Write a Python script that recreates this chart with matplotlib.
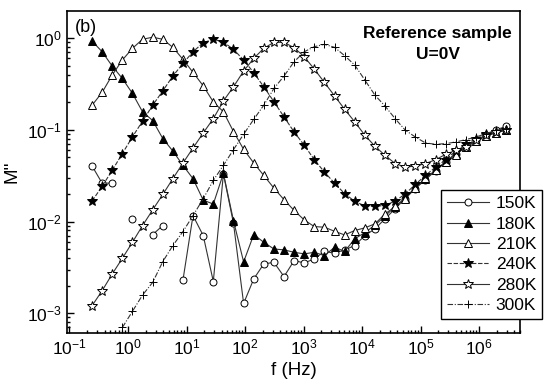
import numpy as np
import matplotlib
matplotlib.use("Agg")
import matplotlib.pyplot as plt
from matplotlib.ticker import FixedLocator, LogLocator, NullFormatter

plt.rcParams['font.family'] = ['Liberation Sans', 'DejaVu Sans']
plt.rcParams['mathtext.default'] = 'regular'

nan = np.nan

# frequency sweep (Hz)
freq = [0.243, 0.361, 0.537, 0.80, 1.19, 1.77, 2.64, 3.93, 5.84, 8.70,
        12.9, 19.3, 28.7, 42.7, 63.5, 94.6, 141, 209, 312, 464,
        690, 1028, 1528, 2275, 3388, 5046, 7500, 11170, 16630, 24720,
        36810, 54830, 81470, 121300, 180700, 269000, 400000, 595700, 887000, 1318000,
        1963000, 2924000]

# M'' for each temperature
m150 = [0.0403, 0.0262, 0.0262, nan, 0.0107, nan, 0.00721, 0.00904, nan, 0.00231,
        0.0116, 0.00703, 0.00222, 0.0331, 0.00955, 0.00128, 0.00237, 0.00345, 0.00359, 0.00251,
        0.00375, 0.00354, 0.00391, 0.00473, 0.00451, 0.00491, 0.00547, 0.00703, 0.00832, 0.0107,
        0.0138, 0.0178, 0.0229, 0.0285, 0.0359, 0.0447, 0.055, 0.0661, 0.0767, 0.0881,
        0.100, 0.109]
m180 = [0.927, 0.708, 0.494, 0.362, 0.249, 0.157, 0.126, 0.0802, 0.0586, 0.0409,
        0.0293, 0.0171, 0.0155, 0.0335, 0.0102, 0.00363, 0.00721, 0.00594, 0.00502, 0.00491,
        0.00462, 0.00444, 0.00462, 0.00425, 0.00524, 0.00473, 0.00647, 0.00759, 0.00912, 0.0115,
        0.0145, 0.0182, 0.0234, 0.0292, 0.0363, 0.0447, 0.055, 0.0646, 0.0759, 0.0861,
        0.0933, 0.100]
m210 = [0.185, 0.255, 0.394, 0.575, 0.771, 0.968, 1.02, 0.968, 0.791, 0.585,
        0.422, 0.301, 0.201, 0.157, 0.0955, 0.0612, 0.0434, 0.0318, 0.0231, 0.0173,
        0.0132, 0.0104, 0.00881, 0.00867, 0.00783, 0.00714, 0.00798, 0.00853, 0.00944, 0.0121,
        0.0146, 0.0177, 0.0234, 0.0295, 0.0363, 0.0447, 0.0537, 0.0646, 0.075, 0.0851,
        0.0933, 0.100]
m240 = [0.0167, 0.0242, 0.0361, 0.055, 0.0836, 0.124, 0.185, 0.265, 0.385, 0.528,
        0.708, 0.889, 0.968, 0.902, 0.752, 0.575, 0.418, 0.294, 0.202, 0.138,
        0.0946, 0.0678, 0.0472, 0.0346, 0.0262, 0.0201, 0.0166, 0.0148, 0.0146, 0.015,
        0.0167, 0.020, 0.0254, 0.0318, 0.0392, 0.0472, 0.0586, 0.0695, 0.0802, 0.0893,
        0.0946, 0.0989]
m280 = [0.00121, 0.00176, 0.00268, 0.00397, 0.00594, 0.00902, 0.0134, 0.0197, 0.0293, 0.0434,
        0.0632, 0.0923, 0.132, 0.206, 0.294, 0.436, 0.600, 0.771, 0.897, 0.897,
        0.783, 0.625, 0.458, 0.328, 0.234, 0.167, 0.122, 0.0871, 0.0661, 0.0526,
        0.0428, 0.0392, 0.0402, 0.0428, 0.0472, 0.054, 0.0597, 0.0649, 0.0767, 0.0871,
        0.0946, 0.100]
m300 = [nan, nan, nan, 0.0007, 0.00105, 0.00158, 0.00217, 0.00366, 0.00547, 0.00778,
        0.0116, 0.0177, 0.0281, 0.0409, 0.0608, 0.0893, 0.130, 0.185, 0.282, 0.385,
        0.551, 0.708, 0.804, 0.853, 0.791, 0.641, 0.507, 0.348, 0.238, 0.181,
        0.132, 0.0989, 0.0834, 0.0718, 0.0695, 0.0706, 0.0736, 0.0782, 0.0834, 0.0908,
        0.0989, 0.103]

labels = ['150K', '180K', '210K', '240K', '280K', '300K']
series = [m150, m180, m210, m240, m280, m300]

# decades that carry a tick label
xTicks = [1e-1, 1e0, 1e1, 1e2, 1e3, 1e4, 1e5, 1e6]
yTicks = [1e-3, 1e-2, 1e-1, 1e0]

# marker, face colour, size, line style for each curve
styles = [('o', 'white', 5.0, '-'),
          ('^', 'black', 5.5, '-'),
          ('^', 'white', 5.5, '-'),
          ('*', 'black', 7.0, (0, (4, 1.5))),
          ('*', 'white', 7.0, '-'),
          ('+', 'black', 6.0, (0, (5, 1.5, 1, 1.5)))]

fig = plt.figure(figsize=(5.5, 3.89), dpi=100)
ax = fig.add_axes([0.1218, 0.1440, 0.8236, 0.8278])

for vals, lab, st in zip(series, labels, styles):
    mk, fc, ms, ls = st
    ax.plot(freq, vals, linestyle=ls, color='#333333', linewidth=0.8,
            marker=mk, markersize=ms, markerfacecolor=fc,
            markeredgecolor='black', markeredgewidth=0.7, label=lab)

ax.set_xscale('log')
ax.set_yscale('log')
ax.set_xlim(0.0906, 5.0e6)
ax.set_ylim(6.1e-4, 1.97)

#Only label the decades inside the frame
ax.xaxis.set_major_locator(FixedLocator(xTicks))
ax.yaxis.set_major_locator(FixedLocator(yTicks))
ax.xaxis.set_major_formatter(matplotlib.ticker.LogFormatterSciNotation())
ax.yaxis.set_major_formatter(matplotlib.ticker.LogFormatterSciNotation())
ax.xaxis.set_minor_locator(LogLocator(base=10, subs=np.arange(2, 10), numticks=12))
ax.yaxis.set_minor_locator(LogLocator(base=10, subs=np.arange(2, 10), numticks=12))
ax.xaxis.set_minor_formatter(NullFormatter())
ax.yaxis.set_minor_formatter(NullFormatter())

ax.tick_params(which='both', direction='in', top=False, right=False,
               labelsize=12.5, width=1.0)
ax.tick_params(which='major', length=5)
ax.tick_params(which='minor', length=2.5)
for sp in ax.spines.values():
    sp.set_linewidth(1.2)

ax.set_xlabel('f (Hz)', fontsize=13.5, labelpad=3)
ax.set_ylabel("M''", fontsize=13.5, labelpad=5)

ax.text(0.018, 0.975, '(b)', transform=ax.transAxes, fontsize=13, va='top', ha='left')
ax.text(0.818, 0.93, 'Reference sample', transform=ax.transAxes, fontsize=12.5,
        fontweight='bold', ha='center', va='center')
ax.text(0.818, 0.865, 'U=0V', transform=ax.transAxes, fontsize=12.5,
        fontweight='bold', ha='center', va='center')

leg = ax.legend(loc='upper left', bbox_to_anchor=(441 / 550, 1 - 190 / 389),
                bbox_transform=fig.transFigure, fontsize=12.5, frameon=True,
                fancybox=False, edgecolor='black', framealpha=1,
                handlelength=2.4, handletextpad=0.4, labelspacing=0.3,
                borderpad=0.35, borderaxespad=0)
leg.get_frame().set_linewidth(1.0)

fig.savefig('out.png', dpi=100)
